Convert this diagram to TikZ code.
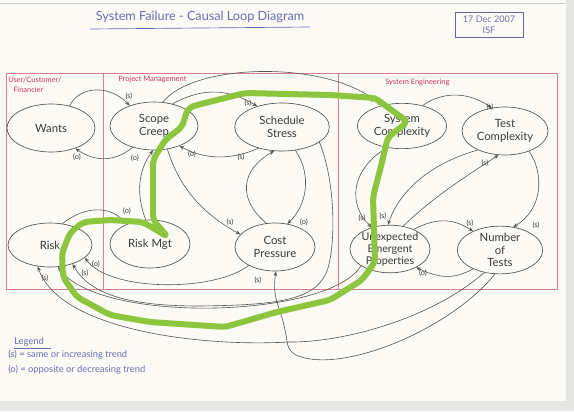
\documentclass[tikz,border=0pt]{standalone}
\usepackage{fontspec}
\setmainfont{Lato}
\usetikzlibrary{shapes.geometric,arrows.meta}
\definecolor{paper}{HTML}{FBFAF4}
\definecolor{outside}{HTML}{E6E6E4}
\definecolor{ink}{HTML}{3A3A3A}
\definecolor{linkgray}{HTML}{555555}
\definecolor{frame}{HTML}{E07C92}
\definecolor{secred}{HTML}{C8385A}
\definecolor{pen}{HTML}{6A6DB8}
\definecolor{lime}{HTML}{8CC63E}
\begin{document}
\begin{tikzpicture}[x=0.75pt,y=-0.75pt,
  blob/.style={ellipse, draw=linkgray, line width=0.5pt, inner sep=0pt, align=center,
    font=\fontsize{8.5}{9.5}\selectfont, text=ink},
  link/.style={draw=linkgray, line width=0.45pt, -{Stealth[length=3.6pt,width=2.8pt]}},
  lab/.style={font=\fontsize{5.5}{6}\selectfont, text=ink, inner sep=0pt},
  sec/.style={font=\fontsize{5.6}{6.5}\selectfont, text=secred, inner sep=0pt, anchor=west},
  pentext/.style={font=\fontsize{7}{8}\selectfont, text=pen, inner sep=0pt, anchor=west},
  loopgreen/.style={draw=lime, line width=4.5pt, line cap=round, line join=round, rounded corners=4pt}]
\useasboundingbox (0,0) rectangle (574,411);
% paper
\fill[outside] (0,0) rectangle (574,411);
\fill[paper] (0,0) rectangle (566,401);
\draw[gray!40, line width=0.4pt] (0,3) -- (566,3);

% title and date
\node[font=\fontsize{9.5}{11}\selectfont, text=pen, inner sep=0pt] (title) at (200,17) {System Failure - Causal Loop Diagram};
\draw[pen, line width=0.5pt] (90,29) -- (310,27);
\node[draw=gray!80!blue, line width=0.5pt, text=pen!80!gray, align=center, font=\fontsize{6.8}{8.5}\selectfont,
  minimum width=51pt, minimum height=19pt, inner sep=1pt] (date) at (489,25) {17 Dec 2007\\ISF};

% red frame
\draw[frame, line width=0.5pt] (6,73) rectangle (557,289);
\draw[frame, line width=0.5pt] (103,73) -- (103,289);
\draw[frame, line width=0.5pt] (338,73) -- (338,289);
\node[sec] (s1) at (8,80) {User/Customer/};
\node[sec] (s2) at (13,90) {Financier};
\node[sec] (s3) at (118,79) {Project Management};
\node[sec] (s4) at (385,82) {System Engineering};

% nodes
\node[blob, minimum width=66pt, minimum height=36pt] (wants) at (51,128) {Wants};
\node[blob, minimum width=66pt, minimum height=36pt] (scope) at (154,126) {Scope\\Creep};
\node[blob, minimum width=71pt, minimum height=36pt] (sched) at (282,127) {Schedule\\Stress};
\node[blob, minimum width=67pt, minimum height=34pt] (sysc) at (402,126) {System\\Complexity};
\node[blob, minimum width=64.5pt, minimum height=36pt] (testc) at (505,131) {Test\\Complexity};
\node[blob, minimum width=63pt, minimum height=33pt] (risk) at (50,245) {Risk};
\node[blob, minimum width=60pt, minimum height=36pt] (riskm) at (150,244) {Risk Mgt};
\node[blob, minimum width=60pt, minimum height=36pt] (cost) at (275,247) {Cost\\Pressure};
\node[blob, minimum width=60pt, minimum height=34.5pt, font=\fontsize{8}{9}\selectfont] (uep) at (390,249) {Unexpected\\Emergent\\Properties};
\node[blob, minimum width=64pt, minimum height=34.5pt] (nt) at (500,250) {Number\\of\\Tests};

% connectors
\draw[link] (wants.50) .. controls (80,85) and (110,85) .. (scope.140);
\node[lab] (l1) at (129,96) {(s)};
\draw[link] (scope.225) .. controls (115,162) and (95,162) .. (wants.320);
\node[lab] (l2) at (77,157) {(o)};
\draw[link] (scope.50) .. controls (205,86) and (230,90) .. (sched.140);
\node[lab] (l3) at (248,103) {(s)};
\draw[link] (sched.222) .. controls (232,160) and (205,160) .. (scope.322);
\node[lab] (l4) at (192,154) {(o)};
\draw[link] (scope.70) .. controls (195,62) and (330,60) .. (sysc.135);
\node[lab] (l5) at (374,99) {(s)};
\draw[link] (riskm.100) .. controls (136,195) and (138,170) .. (scope.268);
\node[lab] (l6) at (135,158) {(o)};
\draw[link] (scope.300) .. controls (180,190) and (205,215) .. (cost.160);
\node[lab] (l7) at (230,222) {(s)};
\draw[link] (cost.110) .. controls (238,200) and (240,170) .. (sched.252);
\node[lab] (l8) at (241,157) {(s)};
\draw[link] (sched.300) .. controls (312,175) and (307,205) .. (cost.62);
\node[lab] (l9) at (304,222) {(o)};
\draw[link] (sched.338) .. controls (335,180) and (336,240) .. (328,268)
   .. controls (318,300) and (280,305) .. (200,306) .. controls (130,306) and (90,295) .. (risk.320);
\node[lab] (l10) at (85,273) {(s)};
\draw[link] (cost.215) .. controls (215,292) and (110,292) .. (risk.340);
\node[lab] (l11) at (96,264) {(o)};
\draw[link] (uep.210) .. controls (330,318) and (100,325) .. (risk.290);
\draw[link] (nt.235) .. controls (430,320) and (340,343) .. (288,342)
   .. controls (200,347) and (60,330) .. (risk.240);
\node[lab] (l12) at (45,278) {(s)};
\draw[link] (nt.258) .. controls (450,330) and (340,375) .. (296,355)
   .. controls (285,349) and (288,340) .. (285,330) .. controls (280,305) and (272,300) .. (cost.272);
\node[lab] (l13) at (258,280) {(s)};
\draw[link] (sysc.45) .. controls (445,90) and (470,93) .. (testc.120);
\node[lab] (l14) at (490,107) {(s)};
\draw[link] (testc.215) .. controls (425,165) and (398,195) .. (uep.95);
\node[lab] (l15) at (383,216) {(s)};
\draw[link] (uep.60) .. controls (430,200) and (460,180) .. (testc.255);
\node[lab] (l16) at (485,163) {(s)};
\draw[link] (sysc.235) .. controls (350,170) and (348,205) .. (uep.130);
\node[lab] (l17) at (362,218) {(s)};
\draw[link] (testc.320) .. controls (545,175) and (542,210) .. (nt.60);
\node[lab] (l18) at (536,225) {(s)};
\draw[link] (uep.40) .. controls (440,216) and (455,220) .. (nt.145);
\node[lab] (l19) at (470,223) {(s)};
\draw[link] (nt.215) .. controls (455,279) and (440,279) .. (uep.325);
\node[lab] (l20) at (423,273) {(o)};
\draw[link] (risk.60) .. controls (85,206) and (110,205) .. (riskm.140);
\node[lab] (l21) at (127,211) {(o)};

% green loop
\draw[loopgreen] (153,220) -- (153,160) -- (165,140) -- (182,127) -- (188,108) -- (197,105)
  -- (245,93) -- (330,95) -- (375,98) -- (408,122) -- (388,137) -- (380,170) -- (373,197)
  -- (375,262) -- (362,280) -- (330,300) -- (277,312) -- (225,327) -- (150,322) -- (110,315)
  -- (77,297) -- (63,277) -- (62,253) -- (70,233) -- (83,222) -- (110,220) -- (143,222)
  -- (168,237) -- cycle;

% legend
\node[pentext] (lg) at (14,342) {Legend};
\draw[pen, line width=0.5pt] (lg.south west) ++(0,2) -- ++(37,0);
\node[pentext] (lg1) at (8,355) {(s) = same or increasing trend};
\node[pentext] (lg2) at (8,370) {(o) = opposite or decreasing trend};
\end{tikzpicture}
\end{document}
